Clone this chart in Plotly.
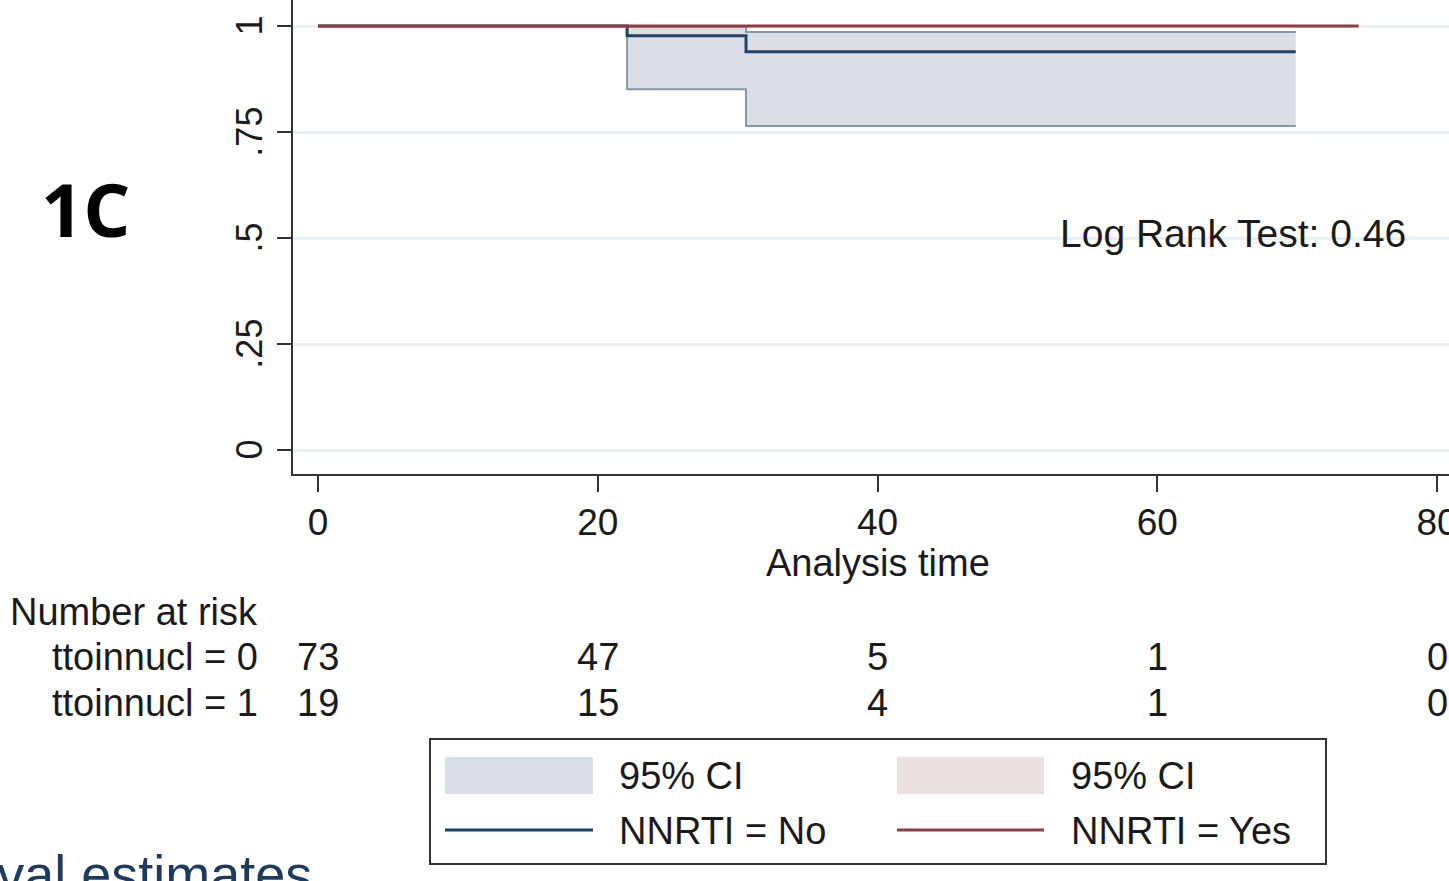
import plotly.graph_objects as go

# ---- data ----
time_no = [0, 22.1, 30.6, 69.9]
surv_no = [1.0, 0.977, 0.939, 0.939]
ci_low_no = [1.0, 0.851, 0.764, 0.764]
ci_up_no = [1.0, 0.998, 0.986, 0.986]

time_yes = [0, 74.4]
surv_yes = [1.0, 1.0]

x_ticks = [0, 20, 40, 60, 80]
y_ticks = [0, 0.25, 0.5, 0.75, 1]
y_tick_text = ["0", ".25", ".5", ".75", "1"]

risk_times = [0, 20, 40, 60, 80]
risk_group0 = [73, 47, 5, 1, 0]
risk_group1 = [19, 15, 4, 1, 0]
risk_labels = ["ttoinnucl = 0", "ttoinnucl = 1"]

legend_labels = ["95% CI", "NNRTI = No", "95% CI", "NNRTI = Yes"]
log_rank_text = "Log Rank Test: 0.46"

# ---- styles ----
W, H = 1449, 881
L, R, T, B = 293, 0, 0, 407
PW, PH = W - L - R, H - T - B
BLUE = "#1f4468"
RED = "#913a44"
CI_BLUE = "#dadfe6"
CI_EDGE = "#8797aa"
CI_RED = "#ebe0e0"
FONT = "Liberation Sans, Arial, sans-serif"
TXT = "#1a1a1a"


def px(x):
    return (x - L) / PW


def py(y):
    return (T + PH - y) / PH


fig = go.Figure()

# CI band (NNRTI = No)
fig.add_trace(go.Scatter(x=time_no, y=ci_up_no, mode="lines", line=dict(color=CI_EDGE, width=2, shape="hv"),
                         showlegend=False, hoverinfo="skip"))
fig.add_trace(go.Scatter(x=time_no, y=ci_low_no, mode="lines", line=dict(color=CI_EDGE, width=2, shape="hv"),
                         fill="tonexty", fillcolor=CI_BLUE, showlegend=False, hoverinfo="skip"))
# survival curves
fig.add_trace(go.Scatter(x=time_no, y=surv_no, mode="lines", line=dict(color=BLUE, width=3, shape="hv"),
                         name="NNRTI = No", showlegend=False))
fig.add_trace(go.Scatter(x=time_yes, y=surv_yes, mode="lines", line=dict(color=RED, width=3, shape="hv"),
                         name="NNRTI = Yes", showlegend=False))

x0 = -25 / 13.9875
x1 = 80 + 12 / 13.9875
fig.update_xaxes(range=[x0, x1], tickvals=x_ticks, ticks="outside", ticklen=16, tickwidth=1.5, tickcolor="#333",
                 showline=True, linecolor="#333", linewidth=2, showgrid=False, zeroline=False,
                 tickfont=dict(family=FONT, size=37, color=TXT), ticklabelstandoff=-1,
                 ticklabeloverflow="allow")
fig.update_yaxes(range=[-24 / 424, 1 + 26 / 424], tickvals=y_ticks,
                 ticktext=[t + "\u00a0" for t in y_tick_text], tickangle=-90,
                 ticks="outside", ticklen=14, tickwidth=1.5, tickcolor="#333",
                 showline=True, linecolor="#333", linewidth=2, showgrid=True, gridcolor="#e9eff3", gridwidth=3,
                 zeroline=False, tickfont=dict(family=FONT, size=36, color=TXT), ticklabelstandoff=1,
                 ticklabeloverflow="allow")

ann = []
ann.append(dict(text="1C", x=px(85), y=py(208), xref="paper", yref="paper", showarrow=False,
                font=dict(family="Open Sans, sans-serif", size=74, color="#000", weight="bold"),
                xanchor="center", yanchor="middle"))
ann.append(dict(text=log_rank_text, x=px(1408), y=py(233), xref="paper", yref="paper", showarrow=False,
                font=dict(family=FONT, size=39, color=TXT), xanchor="right", yanchor="middle"))
ann.append(dict(text="Analysis time", x=40, y=py(563), xref="x", yref="paper", showarrow=False,
                font=dict(family=FONT, size=38, color=TXT), xanchor="center", yanchor="middle"))
ann.append(dict(text="Number at risk", x=px(8), y=py(612), xref="paper", yref="paper", showarrow=False,
                font=dict(family=FONT, size=38, color=TXT), xanchor="left", yanchor="middle"))
for lab, vals, yy in [(risk_labels[0], risk_group0, 657), (risk_labels[1], risk_group1, 703)]:
    ann.append(dict(text=lab, x=px(50), y=py(yy), xref="paper", yref="paper", showarrow=False,
                    font=dict(family=FONT, size=38, color=TXT), xanchor="left", yanchor="middle"))
    for t, v in zip(risk_times, vals):
        ann.append(dict(text=str(v), x=t, y=py(yy), xref="x", yref="paper", showarrow=False,
                        font=dict(family=FONT, size=38, color=TXT), xanchor="center", yanchor="middle"))

# legend box (drawn manually to match the Stata layout)
shapes = []
shapes.append(dict(type="rect", xref="paper", yref="paper", x0=px(430), x1=px(1326), y0=py(864), y1=py(739),
                   line=dict(color="#333", width=2), fillcolor="rgba(0,0,0,0)"))
shapes.append(dict(type="rect", xref="paper", yref="paper", x0=px(445), x1=px(593), y0=py(794), y1=py(757),
                   line=dict(width=0), fillcolor=CI_BLUE))
shapes.append(dict(type="rect", xref="paper", yref="paper", x0=px(897), x1=px(1044), y0=py(794), y1=py(757),
                   line=dict(width=0), fillcolor=CI_RED))
shapes.append(dict(type="line", xref="paper", yref="paper", x0=px(445), x1=px(593), y0=py(830), y1=py(830),
                   line=dict(color=BLUE, width=3)))
shapes.append(dict(type="line", xref="paper", yref="paper", x0=px(897), x1=px(1044), y0=py(830), y1=py(830),
                   line=dict(color=RED, width=3)))
for text, xx, yy in [(legend_labels[0], 617, 776), (legend_labels[1], 617, 831),
                     (legend_labels[2], 1069, 776), (legend_labels[3], 1069, 831)]:
    ann.append(dict(text=text, x=px(xx), y=py(yy), xref="paper", yref="paper", showarrow=False,
                    font=dict(family=FONT, size=38, color=TXT), xanchor="left", yanchor="middle"))

# partially visible title of the panel below
ann.append(dict(text="Kaplan-Meier survival estimates", x=px(314), y=py(842), xref="paper", yref="paper",
                showarrow=False, font=dict(family=FONT, size=54, color="#1f3a5f"),
                xanchor="right", yanchor="top"))

fig.update_layout(width=W, height=H, margin=dict(l=L, r=R, t=T, b=B, autoexpand=False),
                  plot_bgcolor="white", paper_bgcolor="white", showlegend=False,
                  annotations=ann, shapes=shapes)

fig.write_html("out.html", config={"displayModeBar": False},
               post_script="document.body.style.margin='0px';document.body.style.overflow='hidden';")
